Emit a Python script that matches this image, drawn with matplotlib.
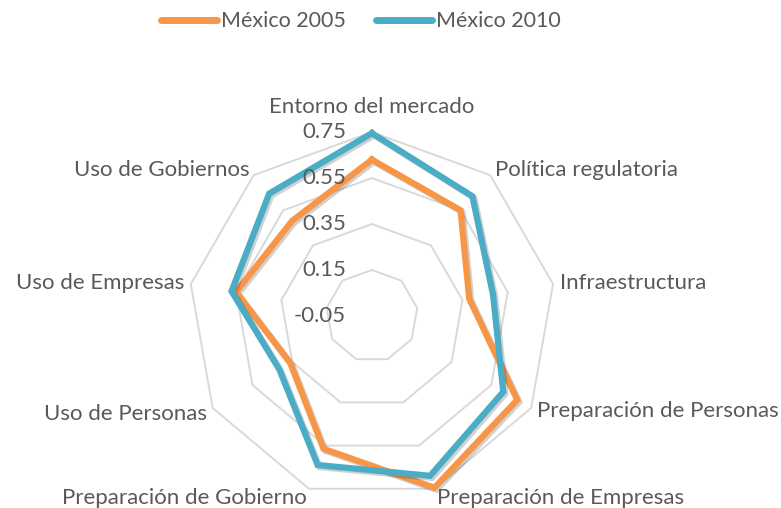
import numpy as np
import matplotlib
matplotlib.use("Agg")
import matplotlib.pyplot as plt
import matplotlib.patheffects as pe

categorias = ["Entorno del mercado", "Política regulatoria", "Infraestructura",
              "Preparación de Personas", "Preparación de Empresas", "Preparación de Gobierno",
              "Uso de Personas", "Uso de Empresas", "Uso de Gobiernos"]
mexico_2005 = [0.63, 0.55, 0.38, 0.68, 0.745, 0.565, 0.36, 0.55, 0.49]
mexico_2010 = [0.745, 0.63, 0.485, 0.61, 0.69, 0.64, 0.415, 0.57, 0.645]
ticks = [-0.05, 0.15, 0.35, 0.55, 0.75]

plt.rcParams['font.family'] = ['Lato', 'DejaVu Sans']
gris = "#595959"
fs = 16

fig = plt.figure(figsize=(7.81, 5.08), dpi=100)
ax = fig.add_axes([0.2407, 0.016, 0.471, 0.724], projection="polar")
ax.set_theta_zero_location("N")
ax.set_theta_direction(-1)
ax.set_ylim(ticks[0], ticks[-1])
ax.grid(False)
ax.spines["polar"].set_visible(False)
ax.set_xticks([])
ax.set_yticks([])
ax.patch.set_visible(False)

n = len(categorias)
ang = np.linspace(0, 2 * np.pi, n, endpoint=False)
ang_c = np.append(ang, ang[0])

# rejilla poligonal (estilo Excel)
for t in ticks[1:]:
    ax.plot(ang_c, [t] * (n + 1), color="#D9D9D9", lw=1.4, zorder=1, clip_on=False)

sombra = [pe.SimpleLineShadow(offset=(1.5, -1.5), shadow_color="#000000", alpha=0.18), pe.Normal()]
l1, = ax.plot(ang_c, mexico_2005 + mexico_2005[:1], color="#F79646", lw=4.5,
              solid_joinstyle="miter", zorder=3, clip_on=False, path_effects=sombra, label="México 2005")
l2, = ax.plot(ang_c, mexico_2010 + mexico_2010[:1], color="#4BACC6", lw=4.5,
              solid_joinstyle="miter", zorder=4, clip_on=False, path_effects=sombra, label="México 2010")

# etiquetas del eje radial
for t in ticks:
    ax.annotate(f"{t:.2f}", xy=(0, t), xytext=(-26, 0), textcoords="offset pixels",
                ha="right", va="center", fontsize=fs, color=gris, zorder=5)

# etiquetas de categorías
for a, c in zip(ang, categorias):
    dx, dy = np.sin(a), np.cos(a)
    if abs(dx) < 0.05:
        ha, va, off = "center", "bottom", (0, 15)
    else:
        ha = "left" if dx > 0 else "right"
        va = "center"
        off = (dx * 7, dy * 7 - (3 if dy < -0.5 else 0))
    ax.annotate(c, xy=(a, ticks[-1]), xytext=off, textcoords="offset pixels",
                ha=ha, va=va, fontsize=fs, color=gris, annotation_clip=False)

fig.legend(handles=[l1, l2], loc="center", bbox_to_anchor=(0.462, 0.958), ncol=2,
           frameon=False, fontsize=15.5, handlelength=2.6, handletextpad=0.2,
           columnspacing=1.4, labelcolor=gris)
for h in fig.legends[0].legend_handles:
    h.set_path_effects([])
    h.set_linewidth(5)
    h.set_solid_capstyle("round")

fig.savefig("out.png", dpi=100)
